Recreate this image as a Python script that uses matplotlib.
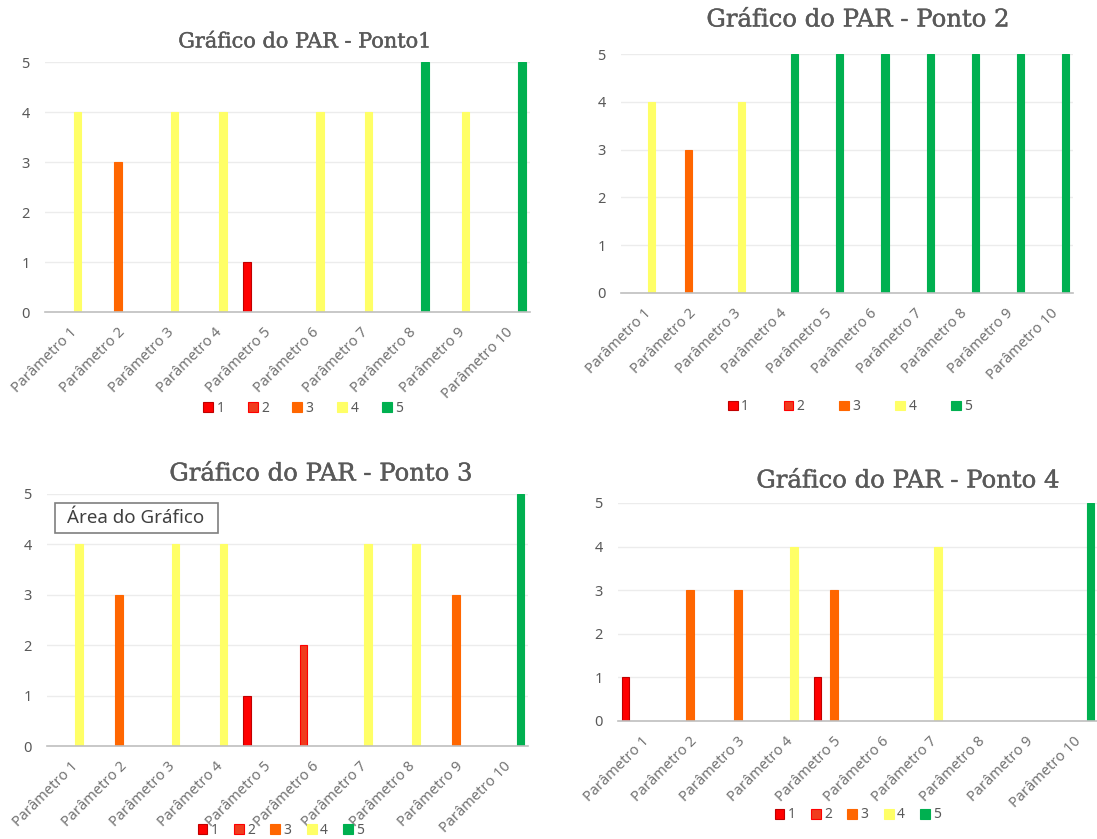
import matplotlib
matplotlib.use("Agg")
import matplotlib.pyplot as plt
from matplotlib.patches import Patch, Rectangle
import matplotlib.patheffects as pe
import numpy as np

# Parameters on the x axis
PARAMETROS = [f"Parâmetro {i}" for i in range(1, 11)]

# Rating levels (legend entries) and their colours
NIVEIS = ["1", "2", "3", "4", "5"]
CORES = ["#FF0000", "#F03C1E", "#FF6600", "#FFFF66", "#00B050"]
BORDAS = ["#C00000", "#FF0000", "#FF6600", "#FFFF66", "#00B050"]

# Values per level (0 = no bar) for each sampling point
PONTO_1 = {
    1: [0, 0, 0, 0, 1, 0, 0, 0, 0, 0],
    2: [0, 0, 0, 0, 0, 0, 0, 0, 0, 0],
    3: [0, 3, 0, 0, 0, 0, 0, 0, 0, 0],
    4: [4, 0, 4, 4, 0, 4, 4, 0, 4, 0],
    5: [0, 0, 0, 0, 0, 0, 0, 5, 0, 5],
}
PONTO_2 = {
    1: [0, 0, 0, 0, 0, 0, 0, 0, 0, 0],
    2: [0, 0, 0, 0, 0, 0, 0, 0, 0, 0],
    3: [0, 3, 0, 0, 0, 0, 0, 0, 0, 0],
    4: [4, 0, 4, 0, 0, 0, 0, 0, 0, 0],
    5: [0, 0, 0, 5, 5, 5, 5, 5, 5, 5],
}
PONTO_3 = {
    1: [0, 0, 0, 0, 1, 0, 0, 0, 0, 0],
    2: [0, 0, 0, 0, 0, 2, 0, 0, 0, 0],
    3: [0, 3, 0, 0, 0, 0, 0, 0, 3, 0],
    4: [4, 0, 4, 4, 0, 0, 4, 4, 0, 0],
    5: [0, 0, 0, 0, 0, 0, 0, 0, 0, 5],
}
PONTO_4 = {
    1: [1, 0, 0, 0, 1, 0, 0, 0, 0, 0],
    2: [0, 0, 0, 0, 0, 0, 0, 0, 0, 0],
    3: [0, 3, 3, 0, 3, 0, 0, 0, 0, 0],
    4: [0, 0, 0, 4, 0, 0, 4, 0, 0, 0],
    5: [0, 0, 0, 0, 0, 0, 0, 0, 0, 5],
}

TITULOS = ["Gráfico do PAR - Ponto1", "Gráfico do PAR - Ponto 2",
           "Gráfico do PAR - Ponto 3", "Gráfico do PAR - Ponto 4"]

W, H = 1097, 839
DPI = 100
TXT = "#595959"
TXT_X = "#737373"
FONTE = ["Noto Sans", "DejaVu Sans"]

fig = plt.figure(figsize=(W / DPI, H / DPI), dpi=DPI)
fig.patch.set_facecolor("white")


def eixos_px(x0, y0, x1, y1):
    return fig.add_axes([x0 / W, 1 - y1 / H, (x1 - x0) / W, (y1 - y0) / H])


def fx(x):
    return x / W


def fy(y):
    return 1 - y / H


def grafico(ax, dados, titulo, tpos, tsize, lpos, lspacing):
    x = np.arange(len(PARAMETROS))
    largura = 0.17
    for k in range(1, 6):
        vals = np.array(dados[k], dtype=float)
        m = vals > 0
        ax.bar(x[m] + (k - 3) * largura, vals[m], width=largura * 0.92,
               color=CORES[k - 1], edgecolor=BORDAS[k - 1], linewidth=0.8,
               zorder=3)
    ax.set_xlim(-0.5, len(PARAMETROS) - 0.5)
    ax.set_ylim(0, 5)
    ax.set_yticks(range(0, 6))
    ax.set_xticks(x)
    ax.set_xticklabels(PARAMETROS, rotation=45, ha="right",
                       rotation_mode="anchor", fontsize=10.5, color=TXT_X,
                       family=FONTE)
    for lbl in ax.get_yticklabels():
        lbl.set_fontsize(10.5)
        lbl.set_color(TXT)
        lbl.set_family(FONTE)
    ax.tick_params(axis="both", length=0)
    ax.tick_params(axis="y", pad=11)
    ax.tick_params(axis="x", pad=9)
    for s in ["top", "right", "left"]:
        ax.spines[s].set_visible(False)
    ax.spines["bottom"].set_color("#BFBFBF")
    ax.spines["bottom"].set_linewidth(1.2)
    ax.spines["bottom"].set_zorder(4)
    ax.yaxis.grid(True, color="#ECECEC", linewidth=1.0, zorder=0)
    ax.set_axisbelow(True)
    ax.set_facecolor("none")

    fig.text(fx(tpos[0]), fy(tpos[1]), titulo, ha="center", va="center",
             fontsize=tsize, color=TXT, family="DejaVu Serif",
             path_effects=[pe.withStroke(linewidth=0.3, foreground=TXT)])

    handles = [Patch(facecolor=CORES[i], edgecolor=BORDAS[i], linewidth=0.8)
               for i in range(5)]
    leg = fig.legend(handles, NIVEIS, loc="center",
                     bbox_to_anchor=(fx(lpos[0]), fy(lpos[1])),
                     ncol=5, frameon=False, handlelength=0.7,
                     handleheight=0.7, handletextpad=0.25,
                     columnspacing=lspacing, borderpad=0,
                     prop={"family": FONTE, "size": 10})
    for t in leg.get_texts():
        t.set_color(TXT)


ax1 = eixos_px(45, 62, 530, 312)
grafico(ax1, PONTO_1, TITULOS[0], (305, 42), 15, (303, 408), 1.7)

ax2 = eixos_px(621, 54, 1073, 293)
grafico(ax2, PONTO_2, TITULOS[1], (858, 20), 17.5, (850, 407), 2.5)

ax3 = eixos_px(47, 494, 528, 746)
grafico(ax3, PONTO_3, TITULOS[2], (321, 474), 17.5, (281, 830), 1.1)

ax4 = eixos_px(618, 503, 1098, 721)
grafico(ax4, PONTO_4, TITULOS[3], (908, 481), 17.5, (858, 815), 1.1)

# Hover label box over the third chart
fig.patches.append(Rectangle((fx(55), fy(533)), fx(218) - fx(55),
                             fy(503) - fy(533), transform=fig.transFigure,
                             facecolor="white", edgecolor="#7F7F7F",
                             linewidth=1.2, zorder=10))
fig.text(fx(136), fy(518), "Área do Gráfico", ha="center", va="center",
         fontsize=13.5, color="#404040", family=FONTE, zorder=11)

fig.savefig("out.png", dpi=DPI, facecolor="white")
